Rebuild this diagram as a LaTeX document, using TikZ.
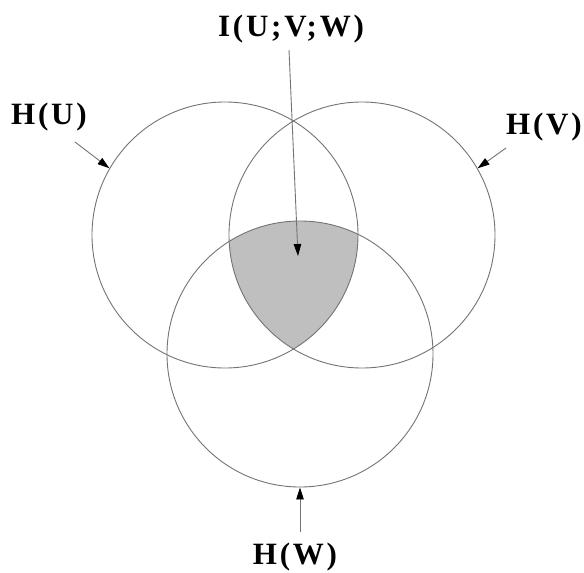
\documentclass[tikz,border=0pt]{standalone}
\usepackage{fontspec}
\usetikzlibrary{arrows.meta}
\newfontfamily\lblfont[LetterSpace=9]{Liberation Serif}
\begin{document}
\begin{tikzpicture}[x=1pt,y=-1pt,
  venn/.style={circle,draw=black!55,line width=0.9pt,minimum size=266pt,inner sep=0pt},
  lbl/.style={font=\lblfont\bfseries\fontsize{31}{33}\selectfont,inner sep=0pt,text=black},
  pointer/.style={draw=black!55,line width=0.9pt,-{Triangle[length=12pt,width=7.5pt,color=black]}}]
\useasboundingbox (0,0) rectangle (584,573);
% shaded triple intersection
\begin{scope}
  \clip (225,235) circle (133);
  \clip (362,235) circle (133);
  \fill[black!25] (300,354) circle (133);
\end{scope}
\node[venn] (cu) at (225,235) {};
\node[venn] (cv) at (362,235) {};
\node[venn] (cw) at (300,354) {};
% labels
\node[lbl] (ilab) at (291,29) {I(U;V;W)};
\node[lbl] (hu) at (49,117) {H(U)};
\node[lbl] (hv) at (544,127) {H(V)};
\node[lbl] (hw) at (295,557) {H(W)};
% connector ends
\coordinate (itop) at (289,50);
\coordinate (itip) at (298,256);
\coordinate (utail) at (75,142);
\coordinate (vtail) at (506,148);
\coordinate (wtail) at (300,532);
\draw[pointer] (itop) -- (itip);
\draw[pointer] (utail) -- (cu.150);
\draw[pointer] (vtail) -- (cv.30);
\draw[pointer] (wtail) -- (cw.south);
\end{tikzpicture}
\end{document}
